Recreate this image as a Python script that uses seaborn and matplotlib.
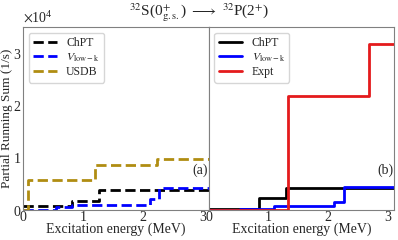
import numpy as np
import pandas as pd
import seaborn as sns
import matplotlib
import matplotlib.pyplot as plt
from matplotlib.ticker import AutoMinorLocator

sns.set_style("white")
plt.rcParams['font.family'] = ['Liberation Serif', 'DejaVu Serif']
plt.rcParams['mathtext.fontset'] = 'stix'

# Data (values in units of 1e4 1/s), step edges in MeV
chpt_a_x = [0, 0.82, 1.27, 3.1]
chpt_a_y = [0.08, 0.17, 0.38, 0.38]
vlowk_a_x = [0, 0.55, 0.82, 2.12, 2.27, 3.1]
vlowk_a_y = [0.0, 0.05, 0.10, 0.21, 0.43, 0.43]
usdb_x = [0, 0.08, 1.2, 2.23, 3.1]
usdb_y = [0.0, 0.58, 0.86, 0.98, 1.0]

chpt_b_x = [0, 0.84, 1.29, 3.1]
chpt_b_y = [0.02, 0.225, 0.43, 0.43]
vlowk_b_x = [0, 0.52, 1.09, 2.1, 2.27, 3.1]
vlowk_b_y = [0.0, 0.025, 0.077, 0.16, 0.44, 0.44]
expt_x = [0, 1.33, 2.69, 3.1]
expt_y = [0.0, 2.18, 3.17, 3.17]

scale = 1e4
vlowk_lab = r'$V_{\rm low-k}$'

fig, (ax1, ax2) = plt.subplots(1, 2, figsize=(3.98, 2.4), dpi=100, sharey=True)
fig.subplots_adjust(left=0.058, right=0.99, bottom=0.125, top=0.887, wspace=0)

# panel (a): dashed
sns.lineplot(x=chpt_a_x, y=np.array(chpt_a_y) * scale, ax=ax1, color='black',
             linestyle='--', lw=2, drawstyle='steps-post', label='ChPT')
sns.lineplot(x=vlowk_a_x, y=np.array(vlowk_a_y) * scale, ax=ax1, color='blue',
             linestyle='--', lw=2, drawstyle='steps-post', label=vlowk_lab)
sns.lineplot(x=usdb_x, y=np.array(usdb_y) * scale, ax=ax1, color='#b08d12',
             linestyle='--', lw=2, drawstyle='steps-post', label='USDB')

# panel (b): solid
sns.lineplot(x=chpt_b_x, y=np.array(chpt_b_y) * scale, ax=ax2, color='black',
             lw=2, drawstyle='steps-post', label='ChPT')
sns.lineplot(x=vlowk_b_x, y=np.array(vlowk_b_y) * scale, ax=ax2, color='blue',
             lw=2, drawstyle='steps-post', label=vlowk_lab)
sns.lineplot(x=expt_x, y=np.array(expt_y) * scale, ax=ax2, color='#e41a1c',
             lw=2, drawstyle='steps-post', label='Expt')

for ax, tag in [(ax1, '(a)'), (ax2, '(b)')]:
    ax.set_xlim(0, 3.1)
    ax.set_ylim(0, 3.5e4)
    ax.set_xticks([0, 1, 2, 3])
    ax.xaxis.set_minor_locator(AutoMinorLocator())
    ax.yaxis.set_minor_locator(AutoMinorLocator())
    ax.tick_params(which='both', direction='in', labelsize=10, color='gray', pad=1)
    ax.tick_params(which='major', length=3.5)
    ax.tick_params(which='minor', length=2)
    for s in ax.spines.values():
        s.set_color('gray')
        s.set_linewidth(0.8)
    ax.set_xlabel('Excitation energy (MeV)', fontsize=10, labelpad=-1)
    ax.text(0.955, 0.215, tag, transform=ax.transAxes, fontsize=10, ha='center', va='center')
    ax.legend(loc='upper left', fontsize=8.5, handlelength=2, framealpha=0.8,
              borderpad=0.35, labelspacing=0.2)

ax1.ticklabel_format(axis='y', style='sci', scilimits=(4, 4), useMathText=True)
ax1.yaxis.get_offset_text().set_fontsize(10)
ax1.set_ylabel('Partial Running Sum (1/s)', fontsize=9.5, labelpad=0)
ax2.set_ylabel('')

fig.suptitle(r'$^{32}$S(0$^{+}_{\rm g.s.}$) $\longrightarrow$ $^{32}$P(2$^{+}$)', fontsize=11, y=0.995)

plt.savefig('out.png', dpi=100)
